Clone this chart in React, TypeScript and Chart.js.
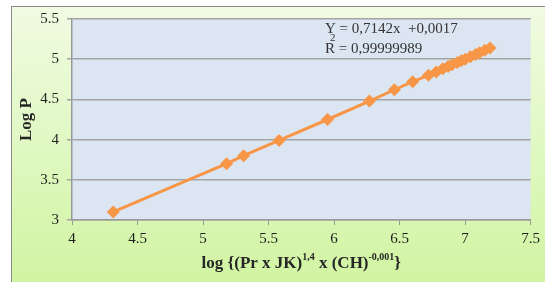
import React, { useEffect, useRef } from "react";
import { Chart, registerables } from "chart.js";

Chart.register(...registerables);

const xValues = [4.315, 5.18, 5.31, 5.58, 5.95, 6.27, 6.46, 6.6, 6.72, 6.78, 6.83, 6.87, 6.9, 6.94, 6.97, 7.0, 7.04, 7.08, 7.11, 7.15, 7.19];
const yValues = [3.1, 3.7, 3.8, 3.99, 4.25, 4.48, 4.62, 4.72, 4.8, 4.84, 4.88, 4.91, 4.93, 4.96, 4.98, 5.0, 5.03, 5.06, 5.08, 5.11, 5.14];
const xTitleParts = [
  { t: "log {(Pr x JK)", sup: false },
  { t: "1,4", sup: true },
  { t: " x (CH)", sup: false },
  { t: "-0,001", sup: true },
  { t: "}", sup: false },
];
const yTitle = "Log P";
const eqLine = "Y = 0,7142x  +0,0017";
const r2Value = " = 0,99999989";

const SERIF = "'Liberation Serif', 'Times New Roman', serif";

const decorPlugin = {
  id: "decor",
  beforeDraw(chart: any) {
    const { ctx, chartArea } = chart;
    ctx.save();
    ctx.fillStyle = "#dce6f2";
    ctx.fillRect(chartArea.left, chartArea.top, chartArea.right - chartArea.left, chartArea.bottom - chartArea.top);
    ctx.restore();
  },
  afterDraw(chart: any) {
    const { ctx, chartArea } = chart;
    ctx.save();
    ctx.fillStyle = "#262626";
    const big = `bold 17px ${SERIF}`;
    const small = `bold 10px ${SERIF}`;
    let total = 0;
    for (const p of xTitleParts) {
      ctx.font = p.sup ? small : big;
      total += ctx.measureText(p.t).width;
    }
    let x = (chartArea.left + chartArea.right) / 2 - total / 2;
    const baseY = chartArea.bottom + 48;
    ctx.textBaseline = "alphabetic";
    ctx.textAlign = "left";
    for (const p of xTitleParts) {
      ctx.font = p.sup ? small : big;
      ctx.fillText(p.t, x, p.sup ? baseY - 8 : baseY);
      x += ctx.measureText(p.t).width;
    }
    ctx.save();
    ctx.translate(27, (chartArea.top + chartArea.bottom) / 2);
    ctx.rotate(-Math.PI / 2);
    ctx.font = big;
    ctx.textAlign = "center";
    ctx.textBaseline = "middle";
    ctx.fillText(yTitle, 0, 0);
    ctx.restore();
    ctx.fillStyle = "#333333";
    ctx.font = `15px ${SERIF}`;
    ctx.textAlign = "left";
    ctx.textBaseline = "alphabetic";
    ctx.fillText(eqLine, 325, 33);
    ctx.fillText("R", 325, 53);
    const rw = ctx.measureText("R").width;
    ctx.fillText(r2Value, 325 + rw, 53);
    ctx.font = `11px ${SERIF}`;
    ctx.fillText("2", 330, 41);
    ctx.restore();
  },
};

export default function App() {
  const ref = useRef<HTMLCanvasElement>(null);
  useEffect(() => {
    if (!ref.current) return;
    const data = xValues.map((v, i) => ({ x: v, y: yValues[i] }));
    const chart = new Chart(ref.current, {
      type: "scatter",
      data: {
        datasets: [
          {
            data,
            showLine: true,
            borderColor: "#f79646",
            backgroundColor: "#f79646",
            borderWidth: 3,
            pointStyle: "rectRot",
            pointRadius: 6.5,
            pointBorderWidth: 0,
          },
        ],
      },
      options: {
        animation: false,
        responsive: false,
        maintainAspectRatio: false,
        layout: { padding: { top: 19, right: 14, left: 0, bottom: 0 } },
        plugins: { legend: { display: false }, tooltip: { enabled: false } },
        scales: {
          x: {
            type: "linear",
            min: 4,
            max: 7.5,
            afterFit: (s: any) => { s.height = 62; },
            ticks: {
              stepSize: 0.5,
              color: "#1f1f1f",
              font: { family: SERIF, size: 15 },
              padding: 5,
              callback: (v: any) => String(v),
            },
            grid: { drawOnChartArea: false, drawTicks: true, tickLength: 5, color: "#999999", lineWidth: 1 },
            border: { color: "#999999", width: 1.5 },
          },
          y: {
            type: "linear",
            min: 3,
            max: 5.5,
            afterFit: (s: any) => { s.width = 72; },
            ticks: {
              stepSize: 0.5,
              color: "#1f1f1f",
              font: { family: SERIF, size: 15 },
              padding: 8,
              callback: (v: any) => String(v),
            },
            grid: { color: "#a3a3a3", lineWidth: 1.5, tickLength: 5 },
            border: { color: "#999999", width: 1.5 },
          },
        },
      },
      plugins: [decorPlugin],
    } as any);
    return () => chart.destroy();
  }, []);
  return (
    <div style={{ position: "absolute", left: 0, top: 0, width: 545, height: 282, background: "#ffffff", overflow: "hidden" }}>
      <div
        style={{
          position: "absolute",
          left: 11,
          top: 6,
          width: 540,
          height: 282,
          borderLeft: "1px solid #8a8a8a",
          borderTop: "1px solid #8a8a8a",
          background: "linear-gradient(180deg, #f0fbe2 0%, #e0f8c2 50%, #d0f4a0 100%)",
        }}
      />
      <canvas ref={ref} width={545} height={282} style={{ position: "absolute", left: 0, top: 0, width: 545, height: 282 }} />
    </div>
  );
}
